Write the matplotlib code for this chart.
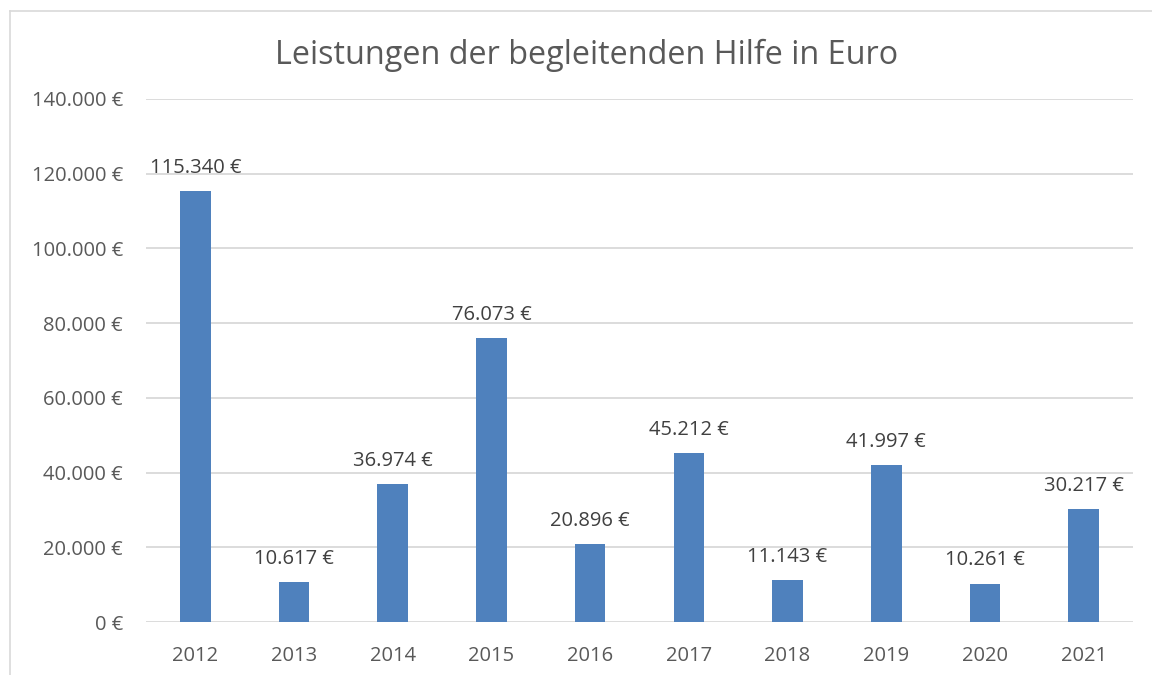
import matplotlib.pyplot as plt
from matplotlib.lines import Line2D

# Daten
jahre = ["2012", "2013", "2014", "2015", "2016", "2017", "2018", "2019", "2020", "2021"]
betraege = [115340, 10617, 36974, 76073, 20896, 45212, 11143, 41997, 10261, 30217]
y_ticks = [0, 20000, 40000, 60000, 80000, 100000, 120000, 140000]

def euro(v):
    return f"{v:,.0f} €".replace(",", ".")

plt.rcParams["font.family"] = ["Open Sans", "DejaVu Sans"]

fig = plt.figure(figsize=(11.52, 6.75), dpi=100)
ax = fig.add_axes([146 / 1152, 1 - 622 / 675, (1133 - 146) / 1152, (622 - 99) / 675])

x = range(len(jahre))
ax.bar(x, betraege, width=0.31, color="#4f81bd", zorder=3)

for i, v in enumerate(betraege):
    ax.annotate(euro(v), (i, v), xytext=(0, 9.5), textcoords="offset points",
                ha="center", va="bottom", fontsize=14.5, color="#404040")

ax.set_xlim(-0.5, len(jahre) - 0.5)
ax.set_ylim(0, 140000)
ax.set_yticks(y_ticks)
ax.set_yticklabels([euro(t) for t in y_ticks])
ax.set_xticks(list(x))
ax.set_xticklabels(jahre)
ax.tick_params(axis="both", length=0, labelsize=14.5, labelcolor="#595959")
ax.tick_params(axis="x", pad=17)
ax.tick_params(axis="y", pad=16.5)
ax.grid(axis="y", color="#d9d9d9", linewidth=1.3, zorder=0)
for s in ax.spines.values():
    s.set_visible(False)

fig.suptitle("Leistungen der begleitenden Hilfe in Euro", x=587 / 1152, y=1 - 55 / 675,
             va="center", fontsize=23.3, color="#595959")

# Rahmen des Diagrammbereichs (rechts und unten abgeschnitten)
fx, fy = 10 / 1152, 1 - 11 / 675
fig.add_artist(Line2D([fx, fx], [0, fy], transform=fig.transFigure, color="#d9d9d9", lw=1.2))
fig.add_artist(Line2D([fx, 1], [fy, fy], transform=fig.transFigure, color="#d9d9d9", lw=1.2))

fig.savefig("out.png", dpi=100)
